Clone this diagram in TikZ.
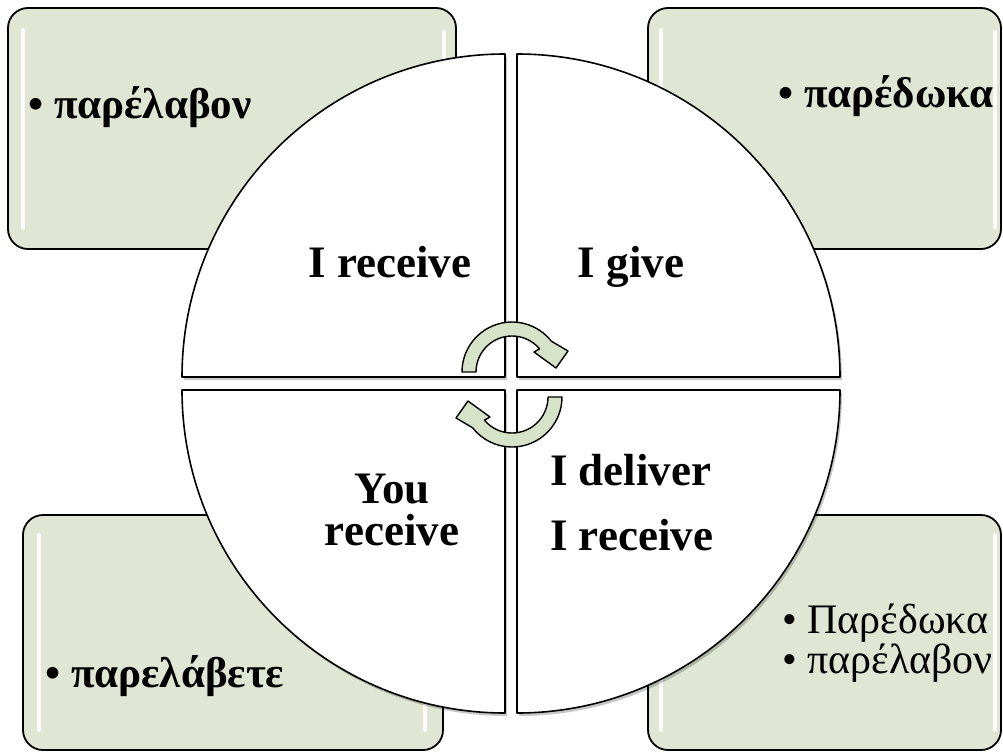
\documentclass[tikz,border=0pt]{standalone}
\usepackage{fontspec}
\setmainfont{Liberation Serif}
\usetikzlibrary{calc}
\definecolor{boxgreen}{RGB}{223,231,212}
\definecolor{arrowgreen}{RGB}{214,227,200}
\tikzset{
  greenbox/.style={draw=black, line width=1.8pt, fill=boxgreen, rounded corners=20pt},
  gloss/.style={draw=white, line width=4pt, line cap=round, opacity=0.9},
  quad/.style={draw=black, line width=1.6pt, fill=white, line join=round},
  quadshadow/.style={fill=black, opacity=0.22},
  mainlabel/.style={font=\fontsize{45}{50}\selectfont\bfseries, inner sep=0pt},
  greeklabel/.style={font=\fontsize{42}{46}\selectfont, inner sep=0pt, anchor=base west},
  greekbold/.style={greeklabel, font=\fontsize{43}{47}\selectfont\bfseries},
  cyclearrow/.style={draw=black, line width=1.4pt, fill=arrowgreen, line join=round},
  cyclearrowpic/.pic={
    \draw[cyclearrow] (-50,0) arc[start angle=180,end angle=322,radius=50]
      -- (56,-21) -- (44,-4) -- (22,-20) -- (320:36) arc[start angle=320,end angle=180,radius=36] -- cycle;
  }
}
\begin{document}
\begin{tikzpicture}[x=1pt,y=-1pt]
\useasboundingbox (0,0) rectangle (1003,755);
% green boxes
\draw[greenbox] (8,8) rectangle (456,249);
\draw[greenbox] (648,8) rectangle (1001,249);
\draw[greenbox] (23,515) rectangle (443,750);
\draw[greenbox] (648,515) rectangle (1001,750);
% glossy highlights
\draw[gloss] (23,30) -- (23,228);
\draw[gloss] (444,32) -- (444,228);
\draw[gloss] (661,30) -- (661,228);
\draw[gloss] (995,32) -- (995,228);
\draw[gloss] (39,535) -- (39,730);
\draw[gloss] (425,535) -- (425,730);
\draw[gloss] (661,535) -- (661,730);
\draw[gloss] (995,535) -- (995,730);
% quadrant shadows
\begin{scope}[shift={(2,3)}]
\fill[quadshadow] (505,377) -- (182,377) arc[start angle=180,end angle=270,radius=323] -- cycle;
\fill[quadshadow] (517,377) -- (517,54) arc[start angle=270,end angle=360,radius=323] -- cycle;
\fill[quadshadow] (517,390) -- (840,390) arc[start angle=0,end angle=90,radius=323] -- cycle;
\fill[quadshadow] (505,390) -- (505,713) arc[start angle=90,end angle=180,radius=323] -- cycle;
\end{scope}
% quadrants
\draw[quad] (505,377) -- (182,377) arc[start angle=180,end angle=270,radius=323] -- cycle;
\draw[quad] (517,377) -- (517,54) arc[start angle=270,end angle=360,radius=323] -- cycle;
\draw[quad] (517,390) -- (840,390) arc[start angle=0,end angle=90,radius=323] -- cycle;
\draw[quad] (505,390) -- (505,713) arc[start angle=90,end angle=180,radius=323] -- cycle;
% cycle arrows
\pic (uparrow) at (512,372) {cyclearrowpic};
\pic[rotate=180] (downarrow) at (512,397) {cyclearrowpic};
% quadrant labels
\node[mainlabel, anchor=base] (irecv) at (390,277) {I receive};
\node[mainlabel, anchor=base] (igive) at (631,277) {I give};
\node[mainlabel, anchor=base] (you) at (392,503) {You};
\node[mainlabel, anchor=base] (yourecv) at (392,545) {receive};
\node[mainlabel, anchor=base west] (ideliver) at (550,485) {I deliver};
\node[mainlabel, anchor=base west] (ireceive2) at (550,550) {I receive};
% box texts
\node[greekbold] (tltext) at (28,118) {• παρέλαβον};
\node[greekbold] (trtext) at (778,107) {• παρέδωκα};
\node[greekbold] (bltext) at (45,687) {• παρελάβετε};
\node[greeklabel] (brtext1) at (782,633) {• Παρέδωκα};
\node[greeklabel] (brtext2) at (782,673) {• παρέλαβον};
\end{tikzpicture}
\end{document}
